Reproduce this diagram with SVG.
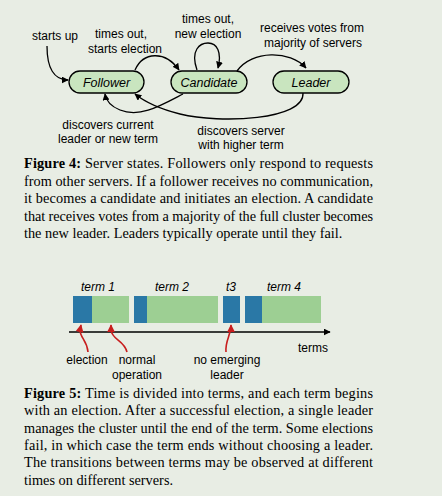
<svg xmlns="http://www.w3.org/2000/svg" width="442" height="496" viewBox="0 0 442 496">
<defs>
<style>
.lbl{font-family:"Liberation Sans",Arial,sans-serif;font-size:12px;fill:#000;text-anchor:middle}
.node{fill:#c9e5bf;stroke:#000;stroke-width:1.3}
.ntxt{font-family:"Liberation Sans",Arial,sans-serif;font-size:12.5px;font-style:italic;fill:#000;text-anchor:middle}
.conn{fill:none;stroke:#000;stroke-width:1.3}
.red{fill:none;stroke:#c81e1e;stroke-width:1.6}
.cap{font-family:"Liberation Serif","Times New Roman",serif;font-size:14.3px;fill:#000}
.term{font-family:"Liberation Sans",Arial,sans-serif;font-size:12px;font-style:italic;fill:#000;text-anchor:middle}
.blue{fill:#2a78a6}
.green{fill:#9dcf93}
</style>
<marker id="ah" viewBox="0 0 10 10" refX="9" refY="5" markerWidth="7" markerHeight="7" markerUnits="userSpaceOnUse" orient="auto">
<path d="M0,0 L10,5 L0,10 z" fill="#000"/>
</marker>
<marker id="rh" viewBox="0 0 10 10" refX="9" refY="5" markerWidth="8" markerHeight="8" markerUnits="userSpaceOnUse" orient="auto">
<path d="M0,0 L10,5 L0,10 z" fill="#c81e1e"/>
</marker>
</defs>
<rect width="442" height="496" fill="#e8ede4"/>

<g id="connectors">
<path class="conn" marker-end="url(#ah)" d="M47,46 C47,68 54,80 68,80"/>
<path class="conn" marker-end="url(#ah)" d="M135,70 C143,52 165,50 179,70"/>
<path class="conn" marker-end="url(#ah)" d="M197,70 C190,50 200,43 208,43 C217,43 222,52 218,68"/>
<path class="conn" marker-end="url(#ah)" d="M237,71 C252,50 290,50 306,68"/>
<path class="conn" marker-end="url(#ah)" d="M183,94 C160,106 140,118 120,110 C110,106 106,100 105,94"/>
<path class="conn" marker-end="url(#ah)" d="M303,93 C305,120 220,124 180,114 C160,109 145,102 135,94"/>
</g>

<g id="follower"><rect class="node" x="69" y="71" width="75" height="22" rx="11"/><text class="ntxt" x="106.5" y="86.5">Follower</text></g>
<g id="candidate"><rect class="node" x="171" y="71" width="76" height="22" rx="11"/><text class="ntxt" x="209" y="86.5">Candidate</text></g>
<g id="leader"><rect class="node" x="273" y="71" width="76" height="22" rx="11"/><text class="ntxt" x="311" y="86.5">Leader</text></g>

<g id="labels4">
<text class="lbl" x="55" y="40">starts up</text>
<text class="lbl" x="121" y="38">times out,</text>
<text class="lbl" x="125" y="53">starts election</text>
<text class="lbl" x="208" y="23">times out,</text>
<text class="lbl" x="208" y="38">new election</text>
<text class="lbl" x="312" y="32">receives votes from</text>
<text class="lbl" x="313" y="47">majority of servers</text>
<text class="lbl" x="108" y="129">discovers current</text>
<text class="lbl" x="108" y="143">leader or new term</text>
<text class="lbl" x="241" y="135">discovers server</text>
<text class="lbl" x="241" y="149">with higher term</text>
</g>

<g id="caption4">
<text class="cap" x="24" y="168" textLength="349" lengthAdjust="spacing"><tspan font-weight="bold">Figure 4:</tspan> Server states. Followers only respond to requests</text>
<text class="cap" x="24" y="185.5" textLength="349" lengthAdjust="spacing">from other servers. If a follower receives no communication,</text>
<text class="cap" x="24" y="203" textLength="349" lengthAdjust="spacing">it becomes a candidate and initiates an election. A candidate</text>
<text class="cap" x="24" y="220.5" textLength="349" lengthAdjust="spacing">that receives votes from a majority of the full cluster becomes</text>
<text class="cap" x="24" y="238">the new leader. Leaders typically operate until they fail.</text>
</g>

<g id="timeline">
<rect class="blue" x="73" y="296" width="19" height="27"/>
<rect class="green" x="92" y="296" width="37" height="27"/>
<rect class="blue" x="134" y="296" width="13" height="27"/>
<rect class="green" x="147" y="296" width="71" height="27"/>
<rect class="blue" x="223" y="296" width="17" height="27"/>
<rect class="blue" x="245" y="296" width="17" height="27"/>
<rect class="green" x="262" y="296" width="59" height="27"/>
<path class="conn" stroke-width="1.6" marker-end="url(#ah)" d="M69,332 L330,332"/>
<text class="term" x="98" y="291">term 1</text>
<text class="term" x="172" y="291">term 2</text>
<text class="term" x="231" y="291">t3</text>
<text class="term" x="284" y="291">term 4</text>
<text class="lbl" x="313" y="352">terms</text>
<path class="red" marker-end="url(#rh)" d="M88,352 C87,340 80,338 80,330 L81,325"/>
<path class="red" marker-end="url(#rh)" d="M127,352 C124,340 112,340 111,330 L111,325"/>
<path class="red" marker-end="url(#rh)" d="M226,352 C225,340 231,336 231,325"/>
<text class="lbl" x="87" y="364">election</text>
<text class="lbl" x="137" y="364">normal</text>
<text class="lbl" x="137" y="379">operation</text>
<text class="lbl" x="227" y="364">no emerging</text>
<text class="lbl" x="227" y="379">leader</text>
</g>

<g id="caption5">
<text class="cap" x="24" y="398" textLength="349" lengthAdjust="spacing"><tspan font-weight="bold">Figure 5:</tspan> Time is divided into terms, and each term begins</text>
<text class="cap" x="24" y="415.3" textLength="349" lengthAdjust="spacing">with an election. After a successful election, a single leader</text>
<text class="cap" x="24" y="432.6" textLength="349" lengthAdjust="spacing">manages the cluster until the end of the term. Some elections</text>
<text class="cap" x="24" y="449.9" textLength="349" lengthAdjust="spacing">fail, in which case the term ends without choosing a leader.</text>
<text class="cap" x="24" y="467.2" textLength="349" lengthAdjust="spacing">The transitions between terms may be observed at different</text>
<text class="cap" x="24" y="484.5">times on different servers.</text>
</g>
</svg>
